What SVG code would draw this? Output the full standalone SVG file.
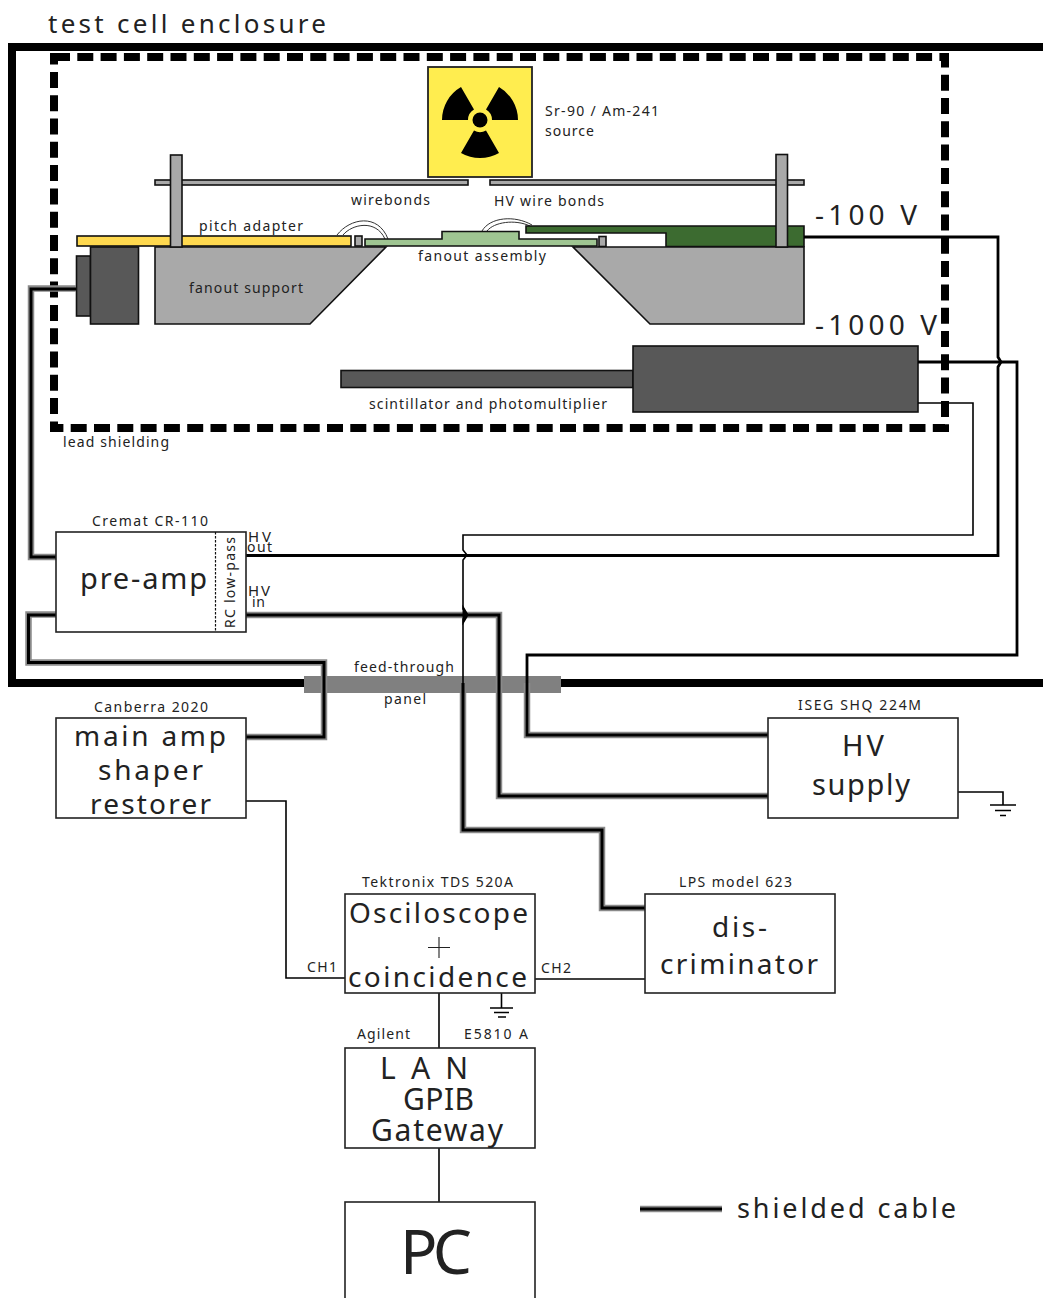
<svg xmlns="http://www.w3.org/2000/svg" width="1043" height="1298" viewBox="0 0 1043 1298">
<style>
text{font-family:"Noto Sans","Liberation Sans",sans-serif;fill:#222;lengthAdjust:spacing}
.s{font-size:14px}.m{font-size:28px}.l{font-size:29px}
.box{fill:#fff;stroke:#222;stroke-width:1.6}
.part{stroke:#111;stroke-width:1.6}
.grey{fill:#a9a9a9}.dark{fill:#585858}
.w{fill:none;stroke:#000;stroke-width:1.6}
.w2{fill:none;stroke:#000;stroke-width:2.8}
.halo{fill:none;stroke:#8a8a8a;stroke-width:6.5}
.core{fill:none;stroke:#000;stroke-width:3}
.bond{fill:none;stroke:#333;stroke-width:1}
</style>
<rect width="1043" height="1298" fill="#fff"/>
<g id="enclosure">
<path d="M1043 47H12V683H1043" fill="none" stroke="#000" stroke-width="8"/>
<text x="48" y="33" font-size="26" textLength="278">test cell enclosure</text>
</g>
<g id="lead-shielding">
<rect x="54" y="57" width="891" height="371" fill="none" stroke="#000" stroke-width="8" stroke-dasharray="16 7.3"/>
<text class="s" x="63" y="447" textLength="106">lead shielding</text>
</g>
<g id="source">
<rect x="428" y="67" width="104" height="110" fill="#ffed4f" stroke="#222" stroke-width="1.8"/>
<circle cx="480" cy="120" r="7.5" fill="#000"/>
<path d="M442 120A38 38 0 0 1 461 87.1L474 109.6A12 12 0 0 0 468 120ZM518 120A38 38 0 0 0 499 87.1L486 109.6A12 12 0 0 1 492 120ZM461 152.9A38 38 0 0 0 499 152.9L486 130.4A12 12 0 0 1 474 130.4Z" fill="#000"/>
<text class="s" x="545" y="116" textLength="114">Sr-90 / Am-241</text>
<text class="s" x="545" y="136" textLength="49">source</text>
</g>
<g id="detector">
<rect class="part grey" x="155" y="180" width="313" height="5"/>
<rect class="part grey" x="490" y="180" width="314" height="5"/>
<path class="bond" d="M337 235C350 218 378 213 388 239M343 235C352 224 376 219 385 239M482 231C490 217 515 215 532 225M487 231C494 222 515 219 530 226"/>
<rect class="part" x="77" y="236" width="274" height="10" fill="#ffd94f"/>
<rect class="part grey" x="355" y="236" width="7" height="10"/>
<path class="part" d="M365 246V239H442V231.500H519V239H597V246Z" fill="#9fc592"/>
<rect class="part grey" x="599" y="236.500" width="7" height="10"/>
<path class="part" d="M526 226H804V246.500H666V233H526Z" fill="#3c6b30"/>
<path class="part grey" d="M155 247H386L310 324H155Z"/>
<path class="part grey" d="M573 247H804V324H650Z"/>
<rect class="part grey" x="170.500" y="155" width="11.500" height="92"/>
<rect class="part grey" x="776" y="154.500" width="11.500" height="92.500"/>
<rect class="part dark" x="76.500" y="256" width="14" height="60"/>
<rect class="part dark" x="90.500" y="247" width="48" height="77"/>
<text class="s" x="351" y="205" textLength="79">wirebonds</text>
<text class="s" x="494" y="206" textLength="110">HV wire bonds</text>
<text class="s" x="199" y="231" textLength="104">pitch adapter</text>
<text class="s" x="418" y="261" textLength="128">fanout assembly</text>
<text class="s" x="189" y="293" textLength="114">fanout support</text>
</g>
<g id="scintillator">
<rect class="part dark" x="341" y="370.500" width="292" height="17"/>
<rect class="part dark" x="633" y="346" width="285" height="66"/>
<text class="s" x="369" y="409" textLength="238">scintillator and photomultiplier</text>
</g>
<g id="voltages">
<text class="m" x="815" y="225" textLength="102">-100 V</text>
<text class="m" x="815" y="335" textLength="122">-1000 V</text>
</g>
<g id="feed-through">
<rect x="304" y="676" width="257" height="17" fill="#808080"/>
<text class="s" x="354" y="672" textLength="100">feed-through</text>
<text class="s" x="384" y="704" textLength="42">panel</text>
</g>
<g id="connectors">
<path class="halo" d="M76 288.500H31V557H56"/>
<path class="halo" d="M56 614.500H28.500V662.500H324V737H246"/>
<path class="halo" d="M246 615H499V796H768"/>
<path class="halo" d="M463 693V830H602V908H645"/>
<path class="halo" d="M527 683V735H768"/>
<path class="core" d="M76 289H31V557H56"/>
<path class="core" d="M56 615H28.500V662.500H324V737H246"/>
<path class="core" d="M246 615H464V610L467 615L464 620V615H499V796H768" stroke-linejoin="miter"/>
<path class="w" d="M918 403H973V535H463V550L467 555L463 560V609L467 614L463 619V830"/>
<path class="core" d="M463 683V830H602V908H645"/>
<path class="w2" d="M804 237H998V357L1001 362L998 367V555.500H246"/>
<path class="w2" d="M918 362H1017V655H527V735H768"/>
<path class="w" d="M246 801H286V978H345"/>
<path class="w" d="M535 979H645"/>
<path class="w" d="M439 993V1048"/>
<path class="w" d="M439 1148V1202"/>
<path class="w" d="M958 792H1003V805M990 805H1016M995 810.500H1011M1000 815.500H1006"/>
<path class="w" d="M501.500 993V1008M490 1008H513M494 1012.500H509M498 1017H506"/>
</g>
<g id="pre-amp">
<rect class="box" x="56" y="532" width="190" height="100"/>
<path d="M215.500 532V632" stroke="#111" stroke-width="1.200" stroke-dasharray="2.500 1.500" fill="none"/>
<text class="s" x="92" y="526" textLength="116">Cremat CR-110</text>
<text class="l" x="80" y="589" textLength="127">pre-amp</text>
<text class="s" transform="translate(235 628) rotate(-90)" textLength="91">RC low-pass</text>
<text x="248" y="542" font-size="15" textLength="23">HV</text>
<text class="s" x="247" y="552" textLength="25">out</text>
<text x="248" y="596" font-size="15" textLength="22">HV</text>
<text class="s" x="252" y="607" textLength="13">in</text>
</g>
<g id="main-amp">
<rect class="box" x="56" y="718" width="190" height="100"/>
<text class="s" x="94" y="712" textLength="114">Canberra 2020</text>
<text class="m" x="74" y="746" textLength="152">main amp</text>
<text class="m" x="98" y="780" textLength="105">shaper</text>
<text class="m" x="90" y="814" textLength="121">restorer</text>
</g>
<g id="hv-supply">
<rect class="box" x="768" y="718" width="190" height="100"/>
<text class="s" x="798" y="710" textLength="123">ISEG SHQ 224M</text>
<text class="l" x="842" y="756" textLength="42">HV</text>
<text class="l" x="812" y="795" textLength="98">supply</text>
</g>
<g id="oscilloscope">
<rect class="box" x="345" y="894" width="190" height="99"/>
<text class="s" x="362" y="887" textLength="151">Tektronix TDS 520A</text>
<text class="m" x="349" y="923" textLength="179">Osciloscope</text>
<path d="M428 947.500H450M439 937V958" stroke="#222" stroke-width="1.100" fill="none"/>
<text class="m" x="348" y="987" textLength="179">coincidence</text>
<text class="s" x="307" y="972" textLength="30">CH1</text>
<text class="s" x="541" y="973" textLength="30">CH2</text>
</g>
<g id="discriminator">
<rect class="box" x="645" y="894" width="190" height="99"/>
<text class="s" x="679" y="887" textLength="113">LPS model 623</text>
<text class="m" x="712" y="937" textLength="55">dis-</text>
<text class="m" x="660" y="974" textLength="158">criminator</text>
</g>
<g id="gateway">
<rect class="box" x="345" y="1048" width="190" height="100"/>
<text class="s" x="357" y="1039" textLength="53">Agilent</text>
<text class="s" x="464" y="1039" textLength="64">E5810 A</text>
<text x="380" y="1079" font-size="30" textLength="88">LAN</text>
<text x="403" y="1110" font-size="30" textLength="71">GPIB</text>
<text x="371" y="1141" font-size="30" textLength="132">Gateway</text>
</g>
<g id="pc">
<rect class="box" x="345" y="1202" width="190" height="110"/>
<text x="400" y="1274" font-size="62" textLength="72">PC</text>
</g>
<g id="legend">
<path class="halo" d="M640 1209H722"/>
<path class="core" d="M640 1209H722"/>
<text x="737" y="1218" font-size="27" textLength="219">shielded cable</text>
</g>
</svg>
